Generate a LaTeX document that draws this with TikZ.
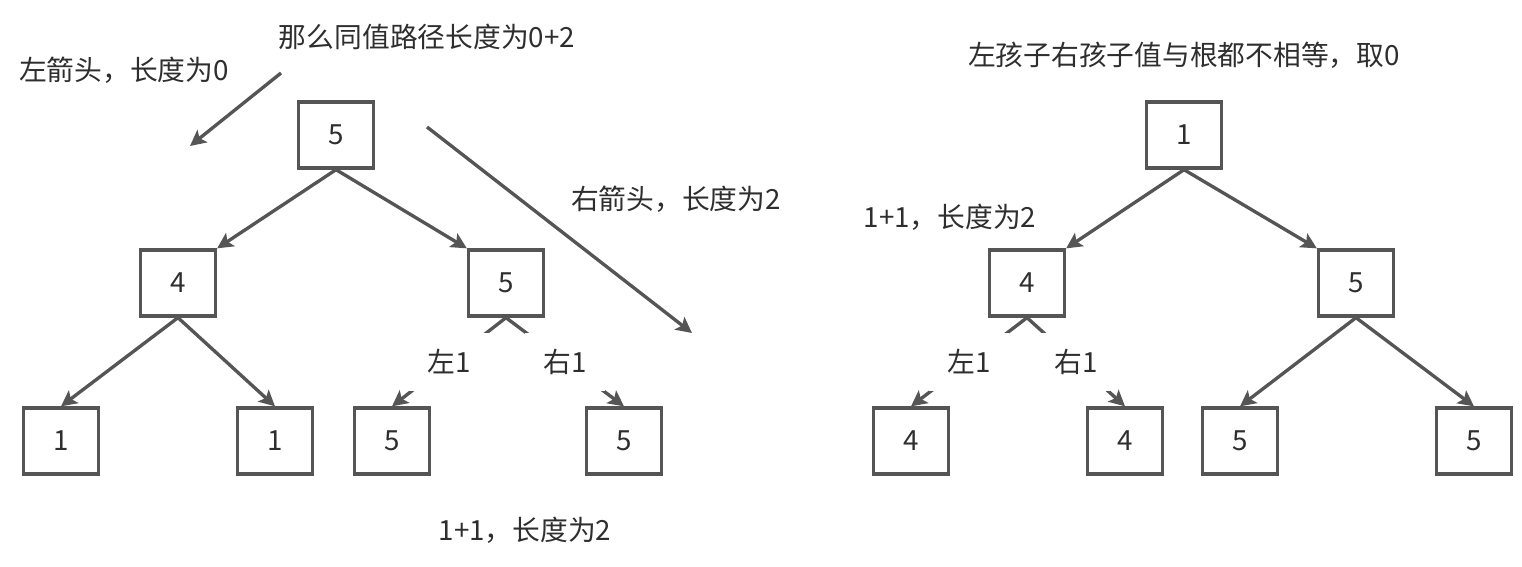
\documentclass[tikz,border=0pt]{standalone}
\usepackage{fontspec}
\newfontfamily\cjk{Noto Sans CJK SC}
\usetikzlibrary{arrows.meta}
\definecolor{linegray}{HTML}{555555}
\definecolor{textgray}{HTML}{2E2E2E}
\newcommand{\txtsize}{\fontsize{15.8pt}{18pt}\selectfont}

\begin{document}
\begin{tikzpicture}[x=0.02cm,y=-0.02cm,
          box/.style={draw=linegray,line width=1.9pt,minimum width=1.5cm,minimum height=1.32cm,inner sep=0pt,font=\cjk\txtsize,text=textgray},
          lbl/.style={font=\cjk\txtsize,text=textgray},
          gap/.style={fill=white,minimum width=1.6cm,minimum height=1.16cm,inner sep=0pt,font=\cjk\txtsize,text=textgray},
          arr/.style={draw=linegray,line width=1.9pt,-{Stealth[length=9pt,width=9pt,inset=2pt]}}]
          \useasboundingbox (0,0) rectangle (1522,566);
          % left tree
          \node[box](a) at (336,135){5};
          \node[box](b) at (178,283){4};
          \node[box](c) at (506,283){5};
          \node[box](d) at (61,441){1};
          \node[box](e) at (275,441){1};
          \node[box](f) at (392,441){5};
          \node[box](g) at (624,441){5};
          \draw[arr](a.south)--(b.north east);
          \draw[arr](a.south)--(c.north west);
          \draw[arr](b.south)--(d.north);
          \draw[arr](b.south)--(e.north);
          \draw[arr](c.south)--node[gap]{左1}(f.north);
          \draw[arr](c.south)--node[gap]{右1}(g.north);
          \node[lbl](t1) at (124,70){左箭头，长度为0};
          \node[lbl](t2) at (427,37){那么同值路径长度为0+2};
          \node[lbl](t3) at (676,199){右箭头，长度为2};
          \node[lbl](t4) at (525,530){1+1，长度为2};
          \coordinate(p1) at (281,73);
          \coordinate(p2) at (190,146);
          \coordinate(p3) at (427,127);
          \coordinate(p4) at (692,333);
          \draw[arr](p1)--(p2);
          \draw[arr](p3)--(p4);
          % right tree
          \node[box](h) at (1184,135){1};
          \node[box](i) at (1027,283){4};
          \node[box](j) at (1356,283){5};
          \node[box](k) at (911,441){4};
          \node[box](l) at (1125,441){4};
          \node[box](m) at (1240,441){5};
          \node[box](n) at (1474,441){5};
          \draw[arr](h.south)--(i.north east);
          \draw[arr](h.south)--(j.north west);
          \draw[arr](i.south)--node[gap]{左1}(k.north);
          \draw[arr](i.south)--node[gap]{右1}(l.north);
          \draw[arr](j.south)--(m.north);
          \draw[arr](j.south)--(n.north);
          \node[lbl](t5) at (1184,55){左孩子右孩子值与根都不相等，取0};
          \node[lbl](t6) at (950,217){1+1，长度为2};
        \end{tikzpicture}
\end{document}
